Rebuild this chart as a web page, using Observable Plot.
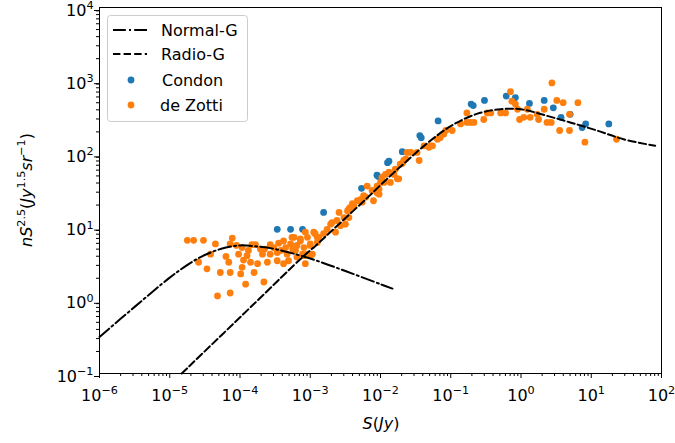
<!DOCTYPE html>
<html><head><meta charset="utf-8">
<script src="https://cdn.jsdelivr.net/npm/d3@7"></script>
<script src="https://cdn.jsdelivr.net/npm/@observablehq/plot@0.6"></script>
<style>body{margin:0;background:#fff}</style>
</head><body><div id="chart"></div>
<script>
// Values, stored as log10 exponents [log10 S (Jy), log10 nS^2.5]
const normalGLog = [[-6,-0.50],[-5.5,-0.09],[-5.0,0.31],[-4.8,0.45],[-4.6,0.57],[-4.4,0.66],[-4.2,0.72],[-4.0,0.75],[-3.8,0.74],[-3.5,0.70],[-3.0,0.57],[-2.5,0.40],[-2.0,0.22],[-1.83,0.16]];
const radioGLog = [[-4.83,-1.0],[-3.78,-0.03],[-3.11,0.59],[-2.93,0.74],[-2.66,0.98],[-2.21,1.38],[-1.86,1.70],[-1.64,1.89],[-1.38,2.11],[-1.0,2.38],[-0.62,2.55],[-0.29,2.61],[0.0,2.61],[0.37,2.52],[0.70,2.43],[1.08,2.32],[1.46,2.20],[1.91,2.11]];
const condonLog = [[-3.47,0.97],[-3.28,0.97],[-3.11,0.97],[-2.81,1.20],[-2.27,1.53],[-2.05,1.71],[-2.03,1.69],[-1.90,1.88],[-1.88,1.90],[-1.69,2.03],[-1.44,2.25],[-1.42,2.22],[-1.18,2.45],[-0.71,2.68],[-0.68,2.66],[-0.52,2.73],[-0.21,2.79],[-0.08,2.77],[0.12,2.69],[0.33,2.73],[0.46,2.63],[0.57,2.50],[0.70,2.54],[0.87,2.36],[0.92,2.41],[1.25,2.41]];
const deZottiLog = [[-4.75,0.82],[-4.66,0.82],[-4.52,0.82],[-4.35,0.77],[-4.11,0.85],[-4.14,0.77],[-4.59,0.52],[-4.42,0.63],[-4.47,0.43],[-4.28,0.38],[-4.14,0.38],[-4.16,0.52],[-4.32,0.06],[-4.14,0.10],[-3.92,0.22],[-3.66,0.25],[-3.99,0.36],[-3.80,0.38],[-3.97,0.45],[-3.85,0.52],[-3.75,0.50],[-4.02,0.63],[-3.97,0.72],[-3.90,0.61],[-3.83,0.76],[-3.78,0.76],[-3.71,0.70],[-3.68,0.63],[-3.57,0.76],[-3.61,0.52],[-3.57,0.63],[-3.47,0.65],[-3.47,0.54],[-3.38,0.81],[-3.35,0.72],[-3.33,0.63],[-3.38,0.50],[-3.28,0.77],[-3.26,0.86],[-3.21,0.68],[-3.14,0.81],[-3.19,0.59],[-3.11,0.63],[-3.09,0.72],[-3.04,0.86],[-3.00,0.77],[-2.90,0.86],[-2.93,0.91],[-3.07,0.50],[-3.09,0.61],[-3.00,0.61],[-3.31,0.54],[-3.07,0.93],[-4.05,0.75],[-3.88,0.68],[-3.65,0.70],[-3.52,0.72],[-3.42,0.68],[-3.25,0.70],[-3.45,0.78],[-4.20,0.60],[-3.95,0.55],[-3.04,0.63],[-2.97,0.63],
[-3.23,0.86],[-3.14,0.84],[-2.95,0.93],[-2.88,0.86],[-2.81,0.91],[-3.00,0.75],[-3.19,0.75],[-2.90,0.79],[-2.76,0.97],[-2.69,1.06],[-2.62,1.09],[-2.59,1.20],[-2.52,1.13],[-2.47,1.22],[-2.43,1.27],[-2.38,1.29],[-2.33,1.36],[-2.28,1.38],[-2.24,1.43],[-2.45,1.13],[-2.50,1.04],[-2.57,1.02],[-2.64,0.93],[-2.71,1.04],[-2.26,1.34],[-2.19,1.56],[-2.12,1.50],[-2.02,1.52],[-2.02,1.45],[-2.00,1.61],[-1.98,1.68],[-1.93,1.72],[-1.88,1.75],[-1.81,1.72],[-1.76,1.66],[-1.86,1.61],[-1.79,1.79],[-1.72,1.86],[-1.64,1.93],[-1.62,2.02],[-2.05,1.56],[-2.45,1.25],[-2.40,1.32],[-2.21,1.41],[-2.10,1.36],[-2.05,1.47],[-1.95,1.61],[-1.74,1.66],[-1.69,1.87],[-1.67,1.91],
[-1.57,2.02],[-1.48,2.02],[-1.45,1.91],[-1.38,2.11],[-1.31,2.09],[-1.29,2.11],[-1.26,2.11],[-1.19,2.20],[-1.15,2.22],[-1.10,2.27],[-1.07,2.32],[-0.98,2.32],[-0.86,2.41],[-0.77,2.56],[-0.77,2.43],[-0.72,2.43],[-0.67,2.43],[-0.53,2.47],[-0.48,2.56],[-0.43,2.56],[-0.29,2.56],[-0.22,2.56],[-0.15,2.85],[-0.13,2.72],[-0.08,2.68],[-0.05,2.61],[-0.02,2.47],[0.04,2.50],[0.13,2.50],[0.09,2.61],[0.23,2.54],[0.25,2.47],[0.33,2.61],[0.37,2.43],[0.43,2.43],[0.44,2.97],[0.51,2.73],[0.60,2.70],[0.55,2.32],[0.69,2.32],[0.69,2.54],[0.81,2.70],[0.91,2.16],[1.36,2.20]];

const xTicks = [1e-6,1e-5,1e-4,1e-3,1e-2,1e-1,1e0,1e1,1e2];
const xTickExp = ["−6","−5","−4","−3","−2","−1","0","1","2"];
const yTicks = [1e-1,1e0,1e1,1e2,1e3,1e4];
const yTickExp = ["−1","0","1","2","3","4"];
const seriesNames = ["Normal-G","Radio-G","Condon","de Zotti"];
const colors = {Condon:"#1f77b4", "de Zotti":"#ff7f0e"};

const toRows = arr => arr.map(([s, n]) => ({S: Math.pow(10, s), N: Math.pow(10, n)}));
const normalG = toRows(normalGLog), radioG = toRows(radioGLog);
const condon = toRows(condonLog), deZotti = toRows(deZottiLog);

const xMinor = d3.range(-6, 2).flatMap(e => d3.range(2, 10).map(m => m * Math.pow(10, e)));
const yMinor = d3.range(-1, 4).flatMap(e => d3.range(2, 10).map(m => m * Math.pow(10, e)));
const idx = (ticks, d) => ticks.findIndex(t => Math.abs(Math.log10(t) - Math.log10(d)) < 1e-6);

const FONT = "DejaVu Sans";
const DASH = "7.4,3.2", DASHDOT = "12.8,3.2,2,3.2", LW = 2;
const chart = Plot.plot({
  width: 675, height: 443,
  marginLeft: 99, marginRight: 14, marginTop: 7, marginBottom: 70,
  style: {fontFamily: FONT, fontSize: "16px", color: "black", background: "white", overflow: "visible"},
  x: {type: "log", domain: [1e-6, 1e2], label: null},
  y: {type: "log", domain: [1e-1, 1e4], label: null},
  marks: [
    Plot.dot(condon, {x: "S", y: "N", r: 3.4, fill: colors.Condon, stroke: "none"}),
    Plot.dot(deZotti, {x: "S", y: "N", r: 3.4, fill: colors["de Zotti"], stroke: "none"}),
    Plot.line(normalG, {x: "S", y: "N", curve: "catmull-rom", stroke: "black", strokeWidth: LW, strokeDasharray: DASHDOT}),
    Plot.line(radioG, {x: "S", y: "N", curve: "catmull-rom", stroke: "black", strokeWidth: LW, strokeDasharray: DASH}),
    Plot.frame({stroke: "black", strokeWidth: 1}),
    Plot.axisX(xTicks, {tickSize: 5, tickPadding: 11, fontSize: 16, label: null, tickFormat: d => "10^" + xTickExp[idx(xTicks, d)]}),
    Plot.axisX(xMinor, {tickSize: 3, label: null, tickFormat: () => ""}),
    Plot.axisY(yTicks, {tickSize: 5, tickPadding: 1, fontSize: 16, dy: 3, label: null, tickFormat: d => "10^" + yTickExp[idx(yTicks, d)]}),
    Plot.axisY(yMinor, {tickSize: 3, label: null, tickFormat: () => ""})
  ]
});
document.getElementById("chart").appendChild(chart);

const svg = d3.select(chart);
// superscript tick labels
svg.selectAll('g[aria-label="x-axis tick label"] text, g[aria-label="y-axis tick label"] text').each(function() {
  const t = this.textContent;
  if (!t.includes("^")) return;
  const [b, e] = t.split("^");
  const el = d3.select(this);
  el.text("");
  el.append("tspan").text(b);
  el.append("tspan").attr("font-size", "70%").attr("dy", "-0.6em").text(e);
});

// x label
const xl = svg.append("text").attr("x", 381).attr("y", 429).attr("text-anchor", "middle")
  .attr("font-family", FONT).attr("font-size", 16).attr("fill", "black");
xl.append("tspan").attr("font-style", "italic").text("S");
xl.append("tspan").text("(");
xl.append("tspan").attr("font-style", "italic").text("Jy");
xl.append("tspan").text(")");

// y label
const yl = svg.append("text").attr("transform", "translate(32,190) rotate(-90)").attr("text-anchor", "middle")
  .attr("font-family", FONT).attr("font-size", 16).attr("fill", "black");
const sup = (txt) => { yl.append("tspan").attr("font-size", "11.2px").attr("dy", "-7").text(txt); };
yl.append("tspan").attr("font-style", "italic").text("nS");
sup("2.5");
yl.append("tspan").attr("dy", "7").text("(");
yl.append("tspan").attr("font-style", "italic").text("Jy");
sup("1.5");
yl.append("tspan").attr("dy", "7").attr("font-style", "italic").text("sr");
sup("−1");
yl.append("tspan").attr("dy", "7").text(")");

// legend
const lg = svg.append("g").attr("font-family", FONT).attr("font-size", 16).attr("text-anchor", "start");
lg.append("rect").attr("x", 107.5).attr("y", 15.5).attr("width", 140).attr("height", 106).attr("rx", 3)
  .attr("fill", "white").attr("fill-opacity", 0.8).attr("stroke", "#cccccc");
const rowsY = [30, 54, 80, 105];
lg.append("line").attr("x1", 113).attr("x2", 147).attr("y1", rowsY[0]).attr("y2", rowsY[0])
  .attr("stroke", "black").attr("stroke-width", LW).attr("stroke-dasharray", DASHDOT);
lg.append("line").attr("x1", 113).attr("x2", 147).attr("y1", rowsY[1]).attr("y2", rowsY[1])
  .attr("stroke", "black").attr("stroke-width", LW).attr("stroke-dasharray", DASH);
lg.append("circle").attr("cx", 131).attr("cy", rowsY[2]).attr("r", 3.4).attr("fill", colors.Condon);
lg.append("circle").attr("cx", 131).attr("cy", rowsY[3]).attr("r", 3.4).attr("fill", colors["de Zotti"]);
const textX = [161, 161, 162, 160];
seriesNames.forEach((name, i) => {
  lg.append("text").attr("x", textX[i]).attr("y", rowsY[i]).attr("dy", "0.36em").attr("text-anchor", "start").attr("fill", "black").text(name);
});
</script></body></html>
